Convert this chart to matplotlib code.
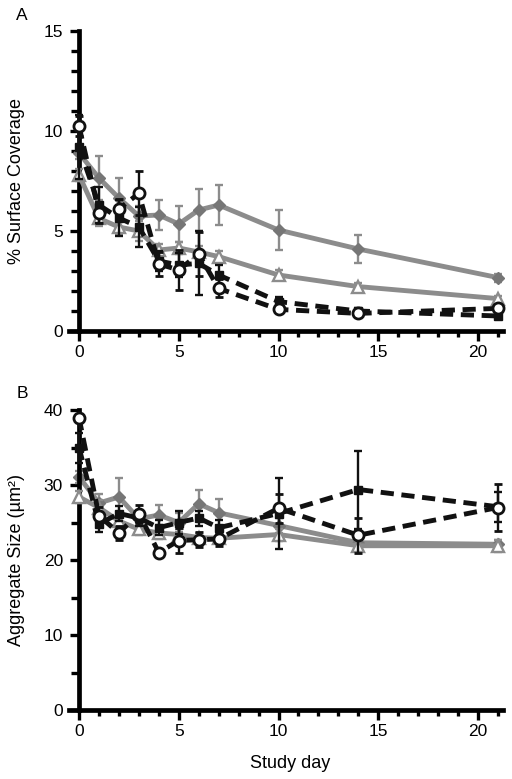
import matplotlib
matplotlib.use("Agg")
import matplotlib.pyplot as plt
from matplotlib.ticker import MultipleLocator, FixedLocator

plt.rcParams['font.family'] = ['Liberation Sans', 'DejaVu Sans']
plt.rcParams['lines.scale_dashes'] = False

days = [0, 1, 2, 3, 4, 5, 6, 7, 10, 14, 21]

# Panel A: % surface coverage
cov_diamond = [8.9, 7.65, 6.65, 5.75, 5.8, 5.35, 6.05, 6.3, 5.05, 4.1, 2.67]
cov_diamond_err = [0.3, 1.1, 1.0, 0.5, 0.75, 0.9, 1.07, 1.0, 1.0, 0.7, 0.2]
cov_triangle = [7.8, 5.63, 5.2, 5.0, 4.05, 4.15, 3.95, 3.72, 2.8, 2.22, 1.62]
cov_triangle_err = [0.3, 0.4, 0.4, 0.5, 0.3, 0.3, 0.3, 0.3, 0.25, 0.2, 0.15]
cov_square = [9.2, 6.3, 5.65, 5.2, 3.5, 3.3, 3.38, 2.8, 1.47, 1.0, 0.75]
cov_square_err = [1.6, 0.9, 0.9, 1.0, 0.5, 0.6, 1.6, 0.5, 0.25, 0.15, 0.15]
cov_circle = [10.25, 5.92, 6.1, 6.88, 3.35, 3.05, 3.85, 2.13, 1.08, 0.88, 1.13]
cov_circle_err = [0.5, 0.5, 0.5, 1.1, 0.6, 1.0, 1.1, 0.45, 0.1, 0.1, 0.1]

# Panel B: aggregate size
agg_diamond = [31.1, 27.6, 28.4, 25.5, 26.0, 25.0, 27.5, 26.3, 24.6, 22.3, 22.1]
agg_diamond_err = [0.8, 1.2, 2.5, 1.0, 1.3, 1.3, 1.8, 1.8, 1.0, 0.6, 0.6]
agg_triangle = [28.4, 27.0, 25.2, 24.1, 23.6, 23.4, 23.0, 22.9, 23.4, 21.9, 21.9]
agg_triangle_err = [0.8, 1.0, 0.8, 0.8, 0.8, 0.8, 0.6, 0.6, 0.8, 0.6, 0.8]
agg_square = [35.0, 24.8, 26.2, 25.6, 24.3, 25.0, 25.6, 24.3, 26.2, 29.4, 27.1]
agg_square_err = [2.0, 1.0, 1.0, 1.0, 1.0, 1.5, 1.0, 1.0, 4.7, 5.2, 2.0]
agg_circle = [39.0, 25.9, 23.6, 26.2, 21.0, 22.6, 22.7, 22.8, 26.9, 23.3, 27.0]
agg_circle_err = [0.5, 1.2, 0.9, 1.2, 0.5, 1.7, 1.0, 0.9, 1.9, 2.3, 3.1]

GRAY = '#8c8c8c'
DGRAY = '#767676'
BLACK = '#111111'

fig = plt.figure(figsize=(5.12, 7.79), dpi=100)
axA = fig.add_axes([69/512, 1-331/779, 434/512, 300/779])
axB = fig.add_axes([69/512, 1-710/779, 434/512, 300/779])


def draw(ax, d, de, t, te, s, se, c, ce):
    kw = dict(clip_on=False)
    ax.errorbar(days, d, yerr=de, color=GRAY, lw=3.5, marker='D', ms=6.5,
                mfc=DGRAY, mec=DGRAY, ecolor=GRAY, elinewidth=1.7,
                capsize=3, capthick=1.7, zorder=2, **kw)
    ax.errorbar(days, t, yerr=te, color=GRAY, lw=3.5, marker='^', ms=8.5,
                mfc='white', mec=GRAY, mew=1.7, ecolor=GRAY, elinewidth=1.7,
                capsize=3, capthick=1.7, zorder=3, **kw)
    l1 = ax.errorbar(days, s, yerr=se, color=BLACK, lw=3.5, marker='s', ms=6,
                     mfc=BLACK, mec=BLACK, ecolor=BLACK, elinewidth=1.7,
                     capsize=3, capthick=1.7, zorder=4, **kw)
    l1[0].set_dashes((9.5, 5.5))
    l2 = ax.errorbar(days, c, yerr=ce, color=BLACK, lw=3.5, marker='o', ms=8,
                     mfc='white', mec=BLACK, mew=2.0, ecolor=BLACK, elinewidth=1.7,
                     capsize=3, capthick=1.7, zorder=5, **kw)
    l2[0].set_dashes((9.5, 5.5))


def style(ax, ymax, ymajor, yminor, ylabel):
    ax.set_xlim(-0.5, 21.25)
    ax.set_ylim(0, ymax)
    for sp in ['top', 'right']:
        ax.spines[sp].set_visible(False)
    ax.spines['left'].set_position(('data', 0))
    ax.spines['left'].set_bounds(0, ymax)
    ax.spines['left'].set_linewidth(3.4)
    ax.spines['bottom'].set_linewidth(3.4)
    ax.xaxis.set_major_locator(FixedLocator([0, 5, 10, 15, 20]))
    ax.xaxis.set_minor_locator(MultipleLocator(1))
    ax.yaxis.set_major_locator(MultipleLocator(ymajor))
    ax.yaxis.set_minor_locator(MultipleLocator(yminor))
    ax.tick_params(axis='x', which='major', direction='out', length=7, width=2.4,
                   labelsize=12.5, pad=3)
    ax.tick_params(axis='x', which='minor', direction='out', length=4.5, width=2.4)
    ax.tick_params(axis='y', which='major', direction='out', length=6.5, width=2.4,
                   labelsize=12.5, pad=5)
    ax.tick_params(axis='y', which='minor', direction='out', length=5.5, width=2.4)
    ax.set_ylabel(ylabel, fontsize=13, va='center')
    ax.yaxis.set_label_coords(-0.12, 0.5)


draw(axA, cov_diamond, cov_diamond_err, cov_triangle, cov_triangle_err,
     cov_square, cov_square_err, cov_circle, cov_circle_err)
style(axA, 15, 5, 1, '% Surface Coverage')

draw(axB, agg_diamond, agg_diamond_err, agg_triangle, agg_triangle_err,
     agg_square, agg_square_err, agg_circle, agg_circle_err)
style(axB, 40, 10, 5, 'Aggregate Size (µm²)')
axB.set_xlabel('Study day', fontsize=13, va='center')
axB.xaxis.set_label_coords(0.509, -0.177)

fig.text(22/512, 1-15/779, 'A', fontsize=12.5, ha='center', va='center')
fig.text(22/512, 1-393/779, 'B', fontsize=12.5, ha='center', va='center')

fig.savefig('out.png', dpi=100)
